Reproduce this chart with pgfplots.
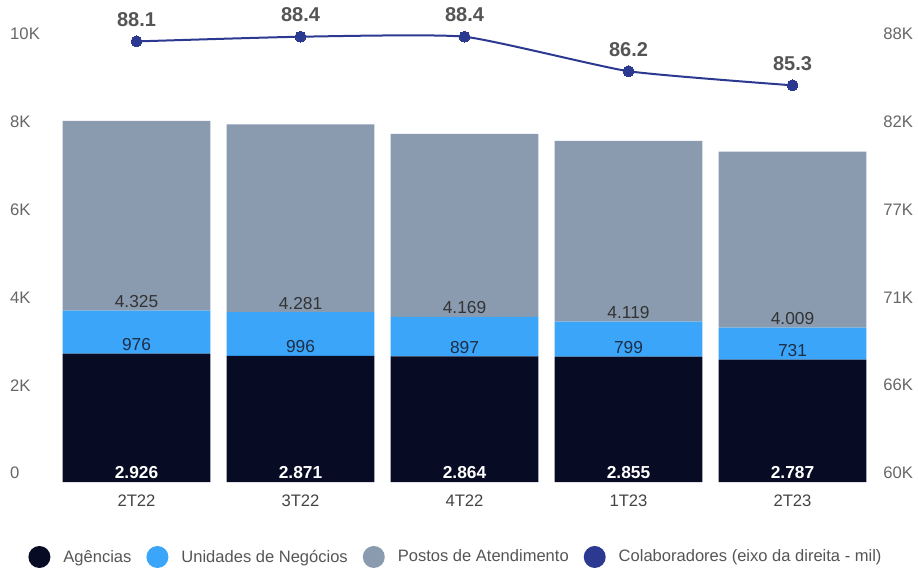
\documentclass[border=0pt]{standalone}
\usepackage{pgfplots}
\pgfplotsset{compat=1.18}
\usepackage{fontspec}
\setmainfont{Liberation Sans}
\definecolor{cAg}{HTML}{070B24}
\definecolor{cUn}{HTML}{3BA5FA}
\definecolor{cPo}{HTML}{8A9BB0}
\definecolor{cCol}{HTML}{2B3990}
\definecolor{tickc}{HTML}{666666}
\definecolor{catc}{HTML}{444444}
\definecolor{legc}{HTML}{555555}
\definecolor{lblc}{HTML}{333333}
\definecolor{unlbl}{HTML}{1E2E45}
\pgfplotsset{
  base/.style={width=615pt,height=329.25pt,scale only axis,
    xmin=-0.5,xmax=4.5,axis line style={draw=none},
    major tick length=0pt,tick style={draw=none},clip=false,
    scaled y ticks=false},
}
\begin{document}
\begin{tikzpicture}
\begin{axis}[base,name=ax,ymin=0,ymax=10000,
  ybar stacked,bar width=0.9,
  xtick={0,1,2,3,4},xticklabels={2T22,3T22,4T22,1T23,2T23},
  xticklabel style={anchor=north,inner sep=0pt,yshift=-9.75pt,
    font=\fontsize{12.5}{14}\selectfont,text=catc},
  ytick={0,2000,4000,6000,8000,10000},
  yticklabels={0,2K,4K,6K,8K,10K},
  yticklabel style={anchor=west,inner sep=0pt,xshift=-33.4pt,yshift=6.75pt,
    font=\fontsize{12.5}{14}\selectfont,text=tickc},
  every axis plot post/.append style={legend image code/.code={\fill (0pt,0pt) circle (8.25pt);}},
  legend columns=4,
  legend style={draw=none,fill=none,at={(0.4884,-0.1708)},anchor=center,
    font=\fontsize{12.4}{14}\selectfont,text=legc,
    nodes={inner sep=0pt},
    /tikz/every odd column/.append style={column sep=9.75pt},
    /tikz/every even column/.append style={column sep=11.25pt}},
  legend cell align=left]
\addplot[fill=cAg,draw=none] coordinates {(0,2926) (1,2871) (2,2864) (3,2855) (4,2787)};
\addlegendentry{Agências}
\addplot[fill=cUn,draw=none] coordinates {(0,976) (1,996) (2,897) (3,799) (4,731)};
\addlegendentry{Unidades de Negócios}
\addplot[fill=cPo,draw=none] coordinates {(0,4325) (1,4281) (2,4169) (3,4119) (4,4009)};
\addlegendentry{Postos de Atendimento}
\addlegendimage{fill=cCol,draw=none}
\addlegendentry{Colaboradores (eixo da direita - mil)}
\end{axis}
% bar value labels (left units, placed at each segment's base)
\begin{axis}[base,at={(ax.south west)},anchor=south west,ymin=0,ymax=10000,hide axis]
\addplot[draw=none,mark=none,nodes near coords,point meta=explicit symbolic,
  every node near coord/.append style={anchor=center,inner sep=0pt,yshift=6.75pt,
    font=\bfseries\fontsize{13}{15}\selectfont,text=white}]
  coordinates {(0,0)[2.926] (1,0)[2.871] (2,0)[2.864] (3,0)[2.855] (4,0)[2.787]};
\addplot[draw=none,mark=none,nodes near coords,point meta=explicit symbolic,
  every node near coord/.append style={anchor=center,inner sep=0pt,yshift=6.75pt,
    font=\fontsize{13}{15}\selectfont,text=unlbl}]
  coordinates {(0,2926)[976] (1,2871)[996] (2,2864)[897] (3,2855)[799] (4,2787)[731]};
\addplot[draw=none,mark=none,nodes near coords,point meta=explicit symbolic,
  every node near coord/.append style={anchor=center,inner sep=0pt,yshift=6.75pt,
    font=\fontsize{13}{15}\selectfont,text=lblc}]
  coordinates {(0,3902)[4.325] (1,3867)[4.281] (2,3761)[4.169] (3,3654)[4.119] (4,3518)[4.009]};
\end{axis}
% right axis: collaborators
\begin{axis}[base,at={(ax.south west)},anchor=south west,ymin=60,ymax=88,
  xtick=\empty,
  ytick={60,65.6,71.2,76.8,82.4,88},
  yticklabels={60K,66K,71K,77K,82K,88K},
  yticklabel pos=right,
  yticklabel style={anchor=west,inner sep=0pt,xshift=6.4pt,yshift=6.75pt,
    font=\fontsize{12.5}{14}\selectfont,text=tickc}]
\addplot[color=cCol,line width=1.5pt,smooth,tension=0.3,mark=*,mark size=4.1pt,
  mark options={fill=cCol,draw=cCol,line width=0pt},
  nodes near coords,point meta=explicit symbolic,
  every node near coord/.append style={anchor=south,inner sep=0pt,yshift=11.25pt,
    font=\bfseries\fontsize{15}{17}\selectfont,text=legc}]
  coordinates {(0,88.1)[88.1] (1,88.4)[88.4] (2,88.4)[88.4] (3,86.2)[86.2] (4,85.3)[85.3]};
\end{axis}
\path ([shift={(-40.875pt,-64.5pt)}]ax.south west) rectangle ([shift={(32.625pt,32.25pt)}]ax.north east);
\end{tikzpicture}
\end{document}
